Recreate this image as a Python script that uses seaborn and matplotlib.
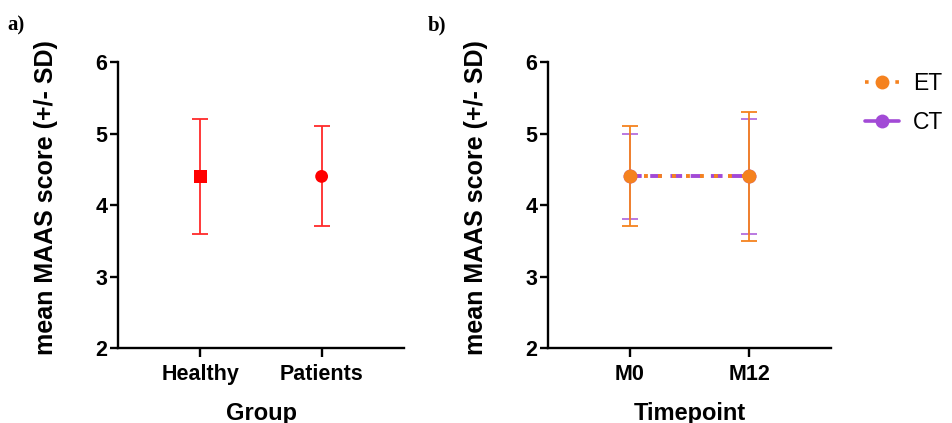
import matplotlib.pyplot as plt
import pandas as pd
import seaborn as sns
from matplotlib.lines import Line2D

# panel a: MAAS by group
groups = ["Healthy", "Patients"]
group_mean = [4.4, 4.4]
group_low = [3.6, 3.7]
group_high = [5.2, 5.1]
group_markers = ["s", "o"]

# panel b: MAAS by timepoint for ET / CT
timepoints = ["M0", "M12"]
et_mean = [4.4, 4.4]
et_low = [3.7, 3.5]
et_high = [5.1, 5.3]
ct_mean = [4.4, 4.4]
ct_low = [3.8, 3.6]
ct_high = [5.0, 5.2]

y_ticks = [2, 3, 4, 5, 6]

RED = "#ff2a2a"
ORANGE = "#f5821f"
PURPLE = "#a24ad6"

sns.set_theme(style="ticks")
plt.rcParams["font.family"] = ["Liberation Sans", "DejaVu Sans"]
plt.rcParams["text.color"] = "black"
plt.rcParams["axes.labelcolor"] = "black"
plt.rcParams["xtick.color"] = "black"
plt.rcParams["ytick.color"] = "black"

fig = plt.figure(figsize=(9.52, 4.23), dpi=100)
ax_a = fig.add_axes([0.124, 0.1773, 0.3004, 0.6761])
ax_b = fig.add_axes([0.5756, 0.1773, 0.2973, 0.6761])


def style_axis(ax, labels, xlabel):
    ax.set_xlim(-0.68, 1.68)
    ax.set_ylim(2, 6)
    ax.set_yticks(y_ticks)
    ax.set_xticks(range(len(labels)))
    ax.set_xticklabels(labels, fontsize=15.5, fontweight="bold")
    ax.set_yticklabels([str(t) for t in y_ticks], fontsize=15.5, fontweight="bold")
    ax.set_xlabel(xlabel, fontsize=17, fontweight="bold", labelpad=12)
    ax.set_ylabel("mean MAAS score (+/- SD)", fontsize=18, fontweight="bold", labelpad=27)
    ax.yaxis.label.set_y(0.525)
    for side in ["top", "right"]:
        ax.spines[side].set_visible(False)
    for side in ["left", "bottom"]:
        ax.spines[side].set_linewidth(1.7)
        ax.spines[side].set_color("black")
    ax.tick_params(axis="y", width=1.7, length=5.8, pad=2)
    ax.tick_params(axis="x", width=1.7, length=6.5, pad=5)


# ---- panel a ----
xa = list(range(len(groups)))
df_a = pd.DataFrame({"x": xa, "mean": group_mean, "Group": groups})
for i in xa:
    ax_a.errorbar(xa[i], group_mean[i],
                  yerr=[[group_mean[i] - group_low[i]], [group_high[i] - group_mean[i]]],
                  fmt="none", ecolor=RED, elinewidth=1.3, capsize=5.5, capthick=1.3)
sns.scatterplot(data=df_a, x="x", y="mean", style="Group",
                markers=dict(zip(groups, group_markers)), color="#ff0000",
                s=85, edgecolor="#ff0000", linewidth=0, legend=False, ax=ax_a, zorder=3)
style_axis(ax_a, groups, "Group")

# ---- panel b ----
xb = list(range(len(timepoints)))
df_et = pd.DataFrame({"x": xb, "mean": et_mean})
df_ct = pd.DataFrame({"x": xb, "mean": ct_mean})

ax_b.errorbar(xb, ct_mean,
              yerr=[[m - l for m, l in zip(ct_mean, ct_low)], [h - m for m, h in zip(ct_mean, ct_high)]],
              fmt="none", ecolor=PURPLE, elinewidth=1.3, capsize=6, capthick=1.3, alpha=0.8)
ax_b.errorbar(xb, et_mean,
              yerr=[[m - l for m, l in zip(et_mean, et_low)], [h - m for m, h in zip(et_mean, et_high)]],
              fmt="none", ecolor=ORANGE, elinewidth=1.3, capsize=6, capthick=1.3)

sns.lineplot(data=df_ct, x="x", y="mean", color=PURPLE, linewidth=2.8,
             marker="o", markersize=10, markeredgewidth=0, ax=ax_b)
ax_b.lines[-1].set_dashes((3, 2.2))
sns.lineplot(data=df_et, x="x", y="mean", color=ORANGE, linewidth=2.8,
             marker="o", markersize=10, markeredgewidth=0, ax=ax_b)
ax_b.lines[-1].set_dashes((1, 2.6))
style_axis(ax_b, timepoints, "Timepoint")

handles = [
    Line2D([0], [0], color=ORANGE, lw=2.6, dashes=(1, 3.2), marker="o", markersize=10, markeredgewidth=0),
    Line2D([0], [0], color=PURPLE, lw=2.6, marker="o", markersize=10, markeredgewidth=0),
]
fig.legend(handles, ["ET", "CT"], loc="center left", bbox_to_anchor=(0.9086, 0.757),
           frameon=False, fontsize=16.5, handlelength=1.5, handletextpad=0.6,
           labelspacing=0.7, borderaxespad=0, borderpad=0)

fig.text(0.008, 0.94, "a)", family="Liberation Serif", fontweight="bold", fontsize=15, va="center")
fig.text(0.449, 0.94, "b)", family="Liberation Serif", fontweight="bold", fontsize=15, va="center")

fig.savefig("out.png", dpi=100, facecolor="white")
